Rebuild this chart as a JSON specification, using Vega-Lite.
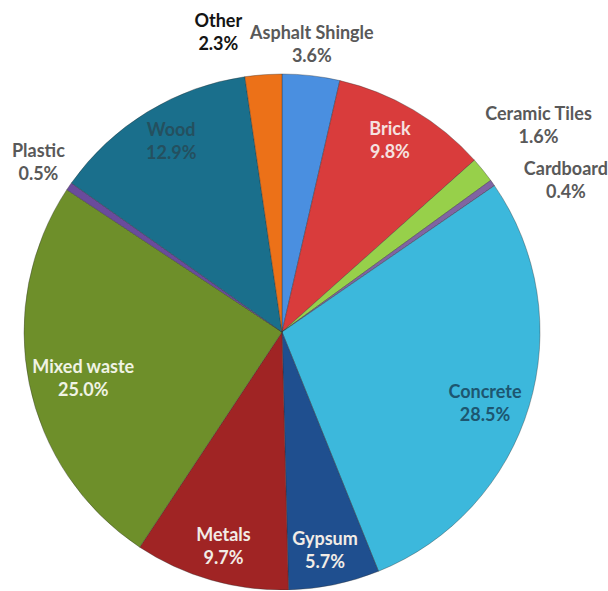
{
  "$schema": "https://vega.github.io/schema/vega-lite/v6.json",
  "width": 564,
  "height": 516,
  "autosize": {"type": "none"},
  "padding": {"left": 0, "top": 74, "right": 44, "bottom": 0},
  "background": "white",
  "config": {"view": {"stroke": null}, "text": {"font": "Lato", "fontWeight": "bold", "fontSize": 18, "lineHeight": 23}},
  "data": {"values": [
    {"cat": "Asphalt Shingle", "pct": 3.6, "rank": 1},
    {"cat": "Brick", "pct": 9.8, "rank": 2},
    {"cat": "Ceramic Tiles", "pct": 1.6, "rank": 3},
    {"cat": "Cardboard", "pct": 0.4, "rank": 4},
    {"cat": "Concrete", "pct": 28.5, "rank": 5},
    {"cat": "Gypsum", "pct": 5.7, "rank": 6},
    {"cat": "Metals", "pct": 9.7, "rank": 7},
    {"cat": "Mixed waste", "pct": 25.0, "rank": 8},
    {"cat": "Plastic", "pct": 0.5, "rank": 9},
    {"cat": "Wood", "pct": 12.9, "rank": 10},
    {"cat": "Other", "pct": 2.3, "rank": 11}
  ]},
  "transform": [
    {"calculate": "[datum.cat, format(datum.pct, '.1f') + '%']", "as": "full"}
  ],
  "encoding": {
    "theta": {"field": "pct", "type": "quantitative", "stack": true},
    "order": {"field": "rank", "type": "quantitative"}
  },
  "layer": [
    {
      "mark": {"type": "arc", "outerRadius": 258, "stroke": "#2a2a2a", "strokeWidth": 0.7, "strokeOpacity": 0.5},
      "encoding": {
        "color": {
          "field": "cat", "type": "nominal", "legend": null,
          "scale": {
            "domain": ["Asphalt Shingle", "Brick", "Ceramic Tiles", "Cardboard", "Concrete", "Gypsum", "Metals", "Mixed waste", "Plastic", "Wood", "Other"],
            "range": ["#4a8fe0", "#d93c3c", "#97d04a", "#8064a2", "#3cb8dc", "#1f4f8f", "#a02424", "#6e8f2a", "#6a4b9c", "#1a6f8c", "#ec7118"]
          }
        }
      }
    },
    {
      "transform": [{"calculate": "indexof(['Concrete','Gypsum','Metals'], datum.cat) >= 0 ? datum.full : ''", "as": "lab"}],
      "mark": {"type": "text", "radius": 212},
      "encoding": {
        "text": {"field": "lab"},
        "color": {
          "condition": {"test": "datum.cat === 'Concrete'", "value": "#1d5670"},
          "value": "#f2ece6"
        }
      }
    },
    {
      "transform": [{"calculate": "datum.cat === 'Mixed waste' ? datum.full : ''", "as": "lab"}],
      "mark": {"type": "text", "radius": 212, "dx": 9, "dy": -6, "color": "#f0f3e4"},
      "encoding": {"text": {"field": "lab"}}
    },
    {
      "transform": [{"calculate": "datum.cat === 'Brick' || datum.cat === 'Wood' ? datum.full : ''", "as": "lab"}],
      "mark": {"type": "text", "radius": 212, "dy": -20},
      "encoding": {
        "text": {"field": "lab"},
        "color": {"condition": {"test": "datum.cat === 'Wood'", "value": "#24505f"}, "value": "#f5e2e0"}
      }
    },
    {
      "transform": [{"calculate": "datum.cat === 'Asphalt Shingle' ? datum.full : ''", "as": "lab"}],
      "mark": {"type": "text", "radius": 300, "dx": -4, "color": "#595959"},
      "encoding": {"text": {"field": "lab"}}
    },
    {
      "transform": [{"calculate": "datum.cat === 'Other' ? datum.full : ''", "as": "lab"}],
      "mark": {"type": "text", "radius": 300, "dx": -42, "dy": -11, "color": "#141414"},
      "encoding": {"text": {"field": "lab"}}
    },
    {
      "transform": [{"calculate": "datum.cat === 'Ceramic Tiles' ? datum.full : ''", "as": "lab"}],
      "mark": {"type": "text", "radius": 300, "dx": 23, "dy": -29, "color": "#595959"},
      "encoding": {"text": {"field": "lab"}}
    },
    {
      "transform": [{"calculate": "datum.cat === 'Cardboard' ? datum.full : ''", "as": "lab"}],
      "mark": {"type": "text", "radius": 300, "dx": 39, "dy": 11, "color": "#595959"},
      "encoding": {"text": {"field": "lab"}}
    },
    {
      "transform": [{"calculate": "datum.cat === 'Plastic' ? datum.full : ''", "as": "lab"}],
      "mark": {"type": "text", "radius": 300, "dx": 4, "dy": -11, "color": "#595959"},
      "encoding": {"text": {"field": "lab"}}
    }
  ]
}
